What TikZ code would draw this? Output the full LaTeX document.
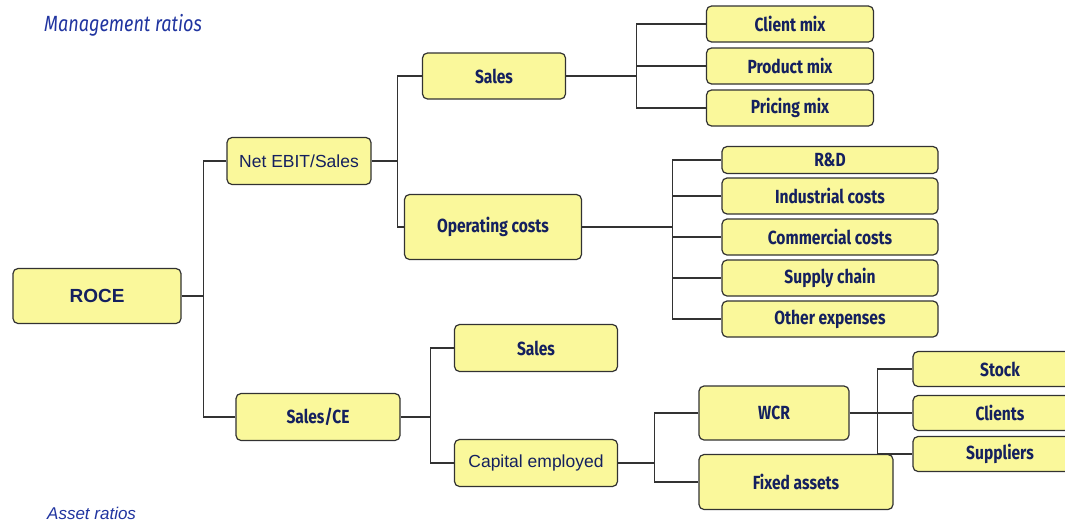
\documentclass[tikz,border=0pt]{standalone}
\usepackage{fontspec}
\setmainfont{Liberation Sans}
\newfontfamily\condfont[FakeStretch=0.82]{Fira Sans}
\usetikzlibrary{positioning}
\definecolor{boxfill}{RGB}{250,248,155}
\definecolor{boxtext}{RGB}{20,32,95}
\definecolor{titleblue}{RGB}{32,52,160}
\definecolor{linegray}{RGB}{50,50,50}

\begin{document}
\begin{tikzpicture}[x=1pt,y=-1pt,
  box/.style={draw=linegray,fill=boxfill,rounded corners=5pt,line width=1.2pt,text=boxtext,inner sep=0pt,anchor=center},
  cond/.style={box,font=\condfont\bfseries\fontsize{19}{19}\selectfont},
  arial/.style={box,font=\fontsize{17.5}{17.5}\selectfont},
  link/.style={draw=linegray,line width=1.2pt}]
\useasboundingbox (0,0) rectangle (1065,523);
\clip (0,0) rectangle (1065,523);
\fill[white] (0,0) rectangle (1065,523);

\node[font=\condfont\itshape\fontsize{22}{22}\selectfont,text=titleblue,anchor=base west,inner sep=0pt] (mgmt) at (44,31) {Management ratios};
\node[font=\itshape\fontsize{17}{17}\selectfont,text=titleblue,anchor=base west,inner sep=0pt] (asset) at (47,519) {Asset ratios};

\node[arial,font=\bfseries\fontsize{19}{19}\selectfont,minimum width=168pt,minimum height=55pt] (roce) at (97,296) {ROCE};
\node[arial,minimum width=144pt,minimum height=47pt] (ebit) at (299,161) {Net EBIT/Sales};
\node[cond,minimum width=164pt,minimum height=47pt] (salesce) at (318,417) {Sales/CE};

\node[cond,minimum width=143pt,minimum height=46pt] (salesa) at (494,76) {Sales};
\node[cond,minimum width=177pt,minimum height=65pt] (opcost) at (493,227) {Operating costs};
\node[cond,minimum width=163pt,minimum height=47pt] (salesb) at (536,348) {Sales};
\node[arial,minimum width=163pt,minimum height=47pt] (capital) at (536,463) {Capital employed};

\foreach \n/\t/\y in {client/Client mix/24,product/Product mix/66,pricing/Pricing mix/108}
  \node[cond,minimum width=167pt,minimum height=36pt] (\n) at (790,\y) {\t};

\node[cond,minimum width=216pt,minimum height=27pt] (rd) at (830,160) {R\&D};
\foreach \n/\t/\y in {indus/Industrial costs/196,comm/Commercial costs/237,supply/Supply chain/278,other/Other expenses/319}
  \node[cond,minimum width=216pt,minimum height=36pt] (\n) at (830,\y) {\t};

\node[cond,minimum width=150pt,minimum height=54pt] (wcr) at (774,413) {WCR};
\node[cond,minimum width=194pt,minimum height=55pt] (fixed) at (796,482) {Fixed assets};

\foreach \n/\t/\y in {stock/Stock/369,clients/Clients/413,suppliers/Suppliers/454}
  \node[cond,minimum width=174pt,minimum height=35pt] (\n) at (1000,\y) {\t};

\path (roce.east) ++(22,0) coordinate (j1);
\draw[link] (roce.east) -- (j1) (j1) |- (ebit.west) (j1) |- (salesce.west);
\path (ebit.east) ++(26,0) coordinate (j2);
\draw[link] (ebit.east) -- (j2) (j2) |- (salesa.west) (j2) |- (opcost.west);
\path (salesa.east) ++(70,0) coordinate (j3);
\draw[link] (salesa.east) -- (j3);
\foreach \c in {client,product,pricing} \draw[link] (j3) |- (\c.west);
\path (opcost.east) ++(90,0) coordinate (j4);
\draw[link] (opcost.east) -- (j4);
\foreach \c in {rd,indus,comm,supply,other} \draw[link] (j4) |- (\c.west);
\path (salesce.east) ++(30,0) coordinate (j5);
\draw[link] (salesce.east) -- (j5) (j5) |- (salesb.west) (j5) |- (capital.west);
\path (capital.east) ++(36,0) coordinate (j6);
\draw[link] (capital.east) -- (j6) (j6) |- (wcr.west) (j6) |- (fixed.west);
\path (wcr.east) ++(28,0) coordinate (j7);
\draw[link] (wcr.east) -- (j7);
\foreach \c in {stock,clients,suppliers} \draw[link] (j7) |- (\c.west);
\end{tikzpicture}
\end{document}
